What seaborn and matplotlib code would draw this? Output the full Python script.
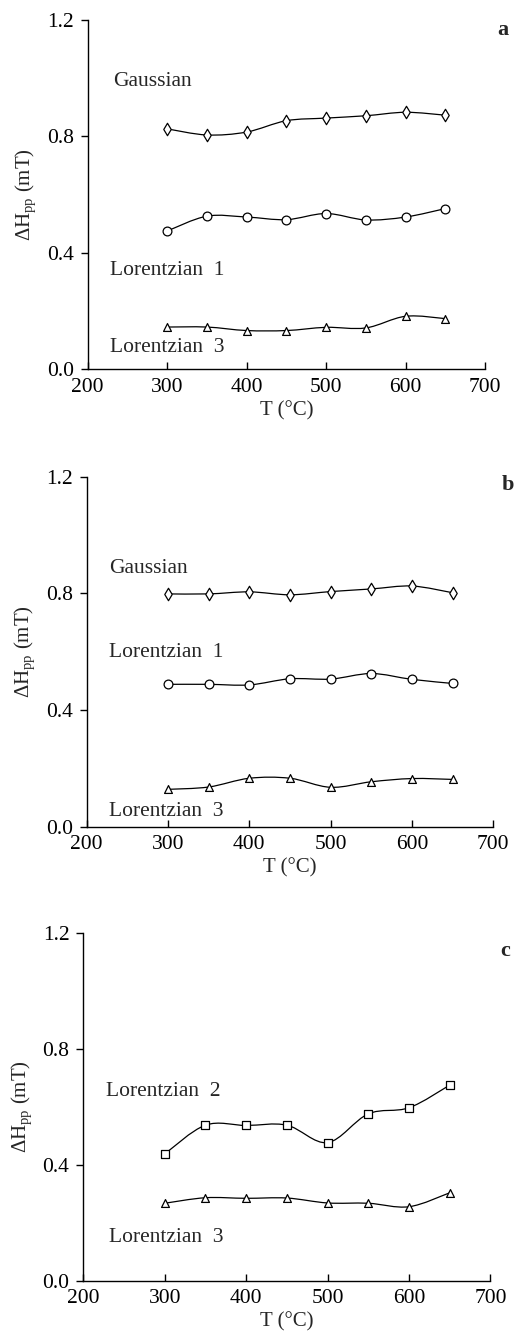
import numpy as np
import pandas as pd
import seaborn as sns
import matplotlib.pyplot as plt
from matplotlib.path import Path
from matplotlib.patches import PathPatch

# temperatures (deg C) and peak-to-peak line widths (mT)
temps = [300, 350, 400, 450, 500, 550, 600, 650]

a_gauss = [0.826, 0.805, 0.815, 0.854, 0.863, 0.871, 0.883, 0.873]
a_lor1 = [0.475, 0.526, 0.523, 0.514, 0.535, 0.513, 0.523, 0.552]
a_lor3 = [0.145, 0.145, 0.133, 0.133, 0.144, 0.142, 0.182, 0.174]

b_gauss = [0.798, 0.798, 0.805, 0.795, 0.806, 0.815, 0.825, 0.802]
b_lor1 = [0.488, 0.488, 0.486, 0.507, 0.506, 0.525, 0.505, 0.491]
b_lor3 = [0.128, 0.136, 0.166, 0.166, 0.135, 0.154, 0.165, 0.162]

c_lor2 = [0.438, 0.537, 0.536, 0.537, 0.477, 0.576, 0.597, 0.675]
c_lor3 = [0.268, 0.287, 0.285, 0.286, 0.269, 0.268, 0.256, 0.304]

sns.set_theme(style='ticks')
plt.rcParams['font.family'] = ['Liberation Serif', 'DejaVu Serif']
plt.rcParams['mathtext.default'] = 'regular'

TXT = 15.5


def smooth_curve(ax, x, y):
    # Catmull-Rom style bezier drawn through the measured points
    pts = np.column_stack([x, y]).astype(float)
    ext = np.vstack([pts[0], pts, pts[-1]])
    verts = [tuple(pts[0])]
    codes = [Path.MOVETO]
    for i in range(1, len(ext) - 2):
        p0, p1, p2, p3 = ext[i - 1], ext[i], ext[i + 1], ext[i + 2]
        c1 = p1 + (p2 - p0) / 6
        c2 = p2 - (p3 - p1) / 6
        verts += [tuple(c1), tuple(c2), tuple(p2)]
        codes += [Path.CURVE4] * 3
    ax.add_patch(PathPatch(Path(verts, codes), fill=False, edgecolor='black', lw=0.9, zorder=2))


def draw_series(ax, vals, marker, size):
    df = pd.DataFrame({'T': temps, 'H': vals})
    smooth_curve(ax, df['T'], df['H'])
    sns.scatterplot(ax=ax, data=df, x='T', y='H', marker=marker, s=size,
                    facecolor='white', edgecolor='black', linewidth=0.9, zorder=3)


fig = plt.figure(figsize=(5.14, 13.34), dpi=100)
ax_a = fig.add_axes([0.1706, 0.7232, 0.773, 0.2618])
ax_b = fig.add_axes([0.1687, 0.3803, 0.791, 0.2624])
ax_c = fig.add_axes([0.1621, 0.0397, 0.792, 0.2611])

draw_series(ax_a, a_gauss, 'd', 40)
draw_series(ax_a, a_lor1, 'o', 40)
draw_series(ax_a, a_lor3, '^', 32)
ax_a.text(232, 0.99, 'Gaussian', fontsize=TXT, va='center')
ax_a.text(228, 0.339, 'Lorentzian  1', fontsize=TXT, va='center')
ax_a.text(228, 0.074, 'Lorentzian  3', fontsize=TXT, va='center')
ax_a.text(722, 1.166, 'a', fontsize=16, fontweight='bold', va='center', ha='center')

draw_series(ax_b, b_gauss, 'd', 40)
draw_series(ax_b, b_lor1, 'o', 40)
draw_series(ax_b, b_lor3, '^', 32)
ax_b.text(228, 0.886, 'Gaussian', fontsize=TXT, va='center')
ax_b.text(228, 0.598, 'Lorentzian  1', fontsize=TXT, va='center')
ax_b.text(228, 0.051, 'Lorentzian  3', fontsize=TXT, va='center')
ax_b.text(718, 1.171, 'b', fontsize=16, fontweight='bold', va='center', ha='center')

draw_series(ax_c, c_lor2, 's', 36)
draw_series(ax_c, c_lor3, '^', 32)
ax_c.text(228, 0.652, 'Lorentzian  2', fontsize=TXT, va='center')
ax_c.text(232, 0.149, 'Lorentzian  3', fontsize=TXT, va='center')
ax_c.text(718, 1.136, 'c', fontsize=16, fontweight='bold', va='center', ha='center')

for ax in [ax_a, ax_b, ax_c]:
    ax.set_xlim(200, 700)
    ax.set_ylim(0, 1.2)
    ax.set_xticks([200, 300, 400, 500, 600, 700])
    ax.set_yticks([0.0, 0.4, 0.8, 1.2])
    ax.set_yticklabels(['0.0', '0.4', '0.8', '1.2'])
    ax.set_xlabel('T (°C)', fontsize=15, labelpad=3)
    ax.set_ylabel(r'$\Delta$H$_{pp}$ (mT)', fontsize=15, labelpad=6)
    sns.despine(ax=ax)
    ax.spines['left'].set_linewidth(1.0)
    ax.spines['bottom'].set_linewidth(1.0)
    ax.spines['left'].set_color('black')
    ax.spines['bottom'].set_color('black')
    ax.tick_params(axis='x', direction='in', length=5, width=1, labelsize=15.5, pad=6, colors='black')
    ax.tick_params(axis='y', direction='out', length=5, width=1, labelsize=15.5, pad=5, colors='black')
    ax.set_facecolor('white')

plt.savefig('out.png', dpi=100)
